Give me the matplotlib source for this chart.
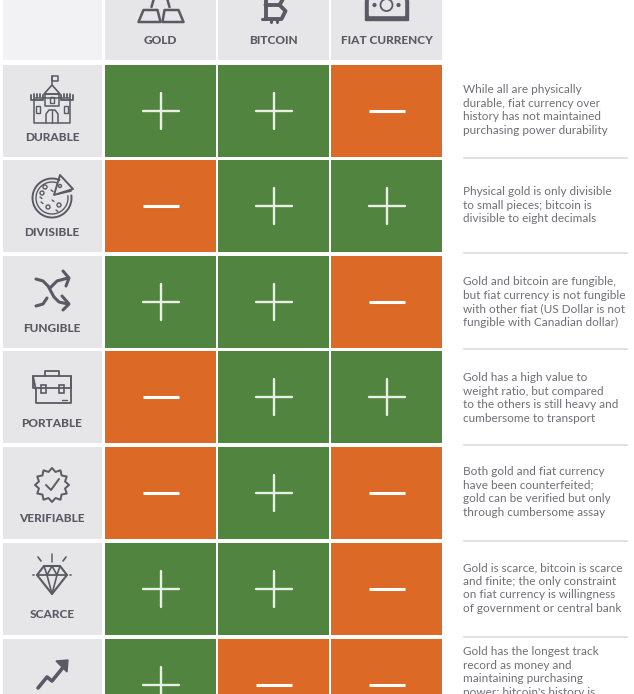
import numpy as np
import matplotlib
matplotlib.use("Agg")
import matplotlib.pyplot as plt
from matplotlib.patches import Rectangle, Circle, Polygon, Arc

columns = ["GOLD", "BITCOIN", "FIAT CURRENCY"]
properties = ["DURABLE", "DIVISIBLE", "FUNGIBLE", "PORTABLE", "VERIFIABLE", "SCARCE", ""]
gold = [1, 0, 1, 0, 0, 1, 1]
bitcoin = [1, 1, 1, 1, 1, 1, 0]
fiat = [0, 1, 0, 1, 0, 0, 0]
notes = [
    "While all are physically\ndurable, fiat currency over\nhistory has not maintained\npurchasing power durability",
    "Physical gold is only divisible\nto small pieces; bitcoin is\ndivisible to eight decimals",
    "Gold and bitcoin are fungible,\nbut fiat currency is not fungible\nwith other fiat (US Dollar is not\nfungible with Canadian dollar)",
    "Gold has a high value to\nweight ratio, but compared\nto the others is still heavy and\ncumbersome to transport",
    "Both gold and fiat currency\nhave been counterfeited;\ngold can be verified but only\nthrough cumbersome assay",
    "Gold is scarce, bitcoin is scarce\nand finite; the only constraint\non fiat currency is willingness\nof government or central bank",
    "Gold has the longest track\nrecord as money and\nmaintaining purchasing\npower; bitcoin's history is",
]

col_x = [105, 218, 331]
col_w = 111
row_y = [65, 160, 256, 351, 447, 543, 639]
row_h = 91.5
note_y = [84, 186, 276, 372, 466, 562, 646]
rule_y = [158, 253, 349, 445, 541, 637]

GREEN = "#50843f"
ORANGE = "#dc6a26"
GREY = "#e6e6e9"
INK = "#5a5a64"
NOTE = "#6f6f78"

plt.rcParams["font.family"] = ["Lato", "DejaVu Sans"]

fig = plt.figure(figsize=(6.34, 6.94), dpi=100)
ax = fig.add_axes([0, 0, 1, 1])
ax.set_xlim(0, 634)
ax.set_ylim(694, 0)
ax.axis("off")


def line(xs, ys, lw=1.5, color=INK):
    ax.plot(xs, ys, color=color, lw=lw, solid_capstyle="round", solid_joinstyle="round")


def outline(pts, lw=1.5, color=INK):
    ax.add_patch(Polygon(pts, closed=True, fill=False, ec=color, lw=lw, joinstyle="round"))


def castle(cx, cy):
    outline([(cx-18, cy-6), (cx+18, cy-6), (cx+18, cy+19), (cx-18, cy+19)], 1.1)
    for sx in (-1, 1):
        line([cx+sx*21, cx+sx*21, cx+sx*9, cx+sx*9], [cy-9, cy-4, cy-4, cy-9], 1.3)
        for k in (12, 15, 18):
            line([cx+sx*k, cx+sx*k], [cy-10, cy-7], 1.3)
        ax.add_patch(Rectangle((cx+sx*14-2, cy+2), 4, 7, fill=False, ec=INK, lw=1))
    outline([(cx-8, cy-10), (cx, cy-19), (cx+8, cy-10)], 1.2)
    outline([(cx-7, cy-10), (cx+7, cy-10), (cx+7, cy+2), (cx-7, cy+2)], 1.1)
    line([cx, cx], [cy-19, cy-28], 1.1)
    outline([(cx, cy-28), (cx+6, cy-28), (cx+6, cy-23), (cx, cy-23)], 1.1)
    ax.add_patch(Rectangle((cx-2, cy-7), 4, 6, fill=False, ec=INK, lw=1))
    line([cx-6, cx-6, cx-3, cx+3, cx+6, cx+6], [cy+19, cy+10, cy+6, cy+6, cy+10, cy+19], 1.1)
    line([cx, cx], [cy+6, cy+19], 1)


def pizza(cx, cy):
    ax.add_patch(Arc((cx, cy), 39, 39, theta1=-10, theta2=295, ec=INK, lw=1.4))
    ax.add_patch(Arc((cx, cy), 32, 32, theta1=-10, theta2=290, ec=INK, lw=1))
    outline([(cx+2, cy-3), (cx+8, cy-23), (cx+21, cy-9)], 1.4)
    line([cx+6, cx+19], [cy-4, cy-7], 1.2)
    for dx, dy in [(-10, -5), (-4, 9), (7, 7), (-7, -11)]:
        ax.add_patch(Circle((cx+dx, cy+dy), 2, fill=False, ec=INK, lw=1))
    for dx, dy in [(-11, 4), (0, 2), (-1, -8), (4, 12), (-12, -1)]:
        line([cx+dx, cx+dx+2], [cy+dy, cy+dy+1.5], 1)
    ax.add_patch(Circle((cx+8, cy-12), 1.5, fill=False, ec=INK, lw=1))


def shuffle(cx, cy):
    line([cx-16, cx-9, cx-4, cx+2, cx+7, cx+16], [cy-14, cy-12, cy-7, cy+4, cy+9, cy+11], 2.2)
    line([cx-16, cx-9, cx-5], [cy+13, cy+11, cy+5], 2.2)
    line([cx-2, cx+5, cx+16], [cy-5, cy-12, cy-15], 2.2)
    line([cx+11, cx+17, cx+14], [cy-22, cy-15, cy-7], 2.2)
    line([cx+10, cx+17, cx+11], [cy+3, cy+11, cy+17], 2.2)


def briefcase(cx, cy):
    outline([(cx-19, cy-10), (cx+19, cy-10), (cx+19, cy+17), (cx-16, cy+17), (cx-16, cy+4)], 1.3)
    line([cx-19, cx-19, cx+19, cx+19], [cy-10, cy+2, cy+2, cy-10], 1.3)
    line([cx-7, cx-7, cx+7, cx+7], [cy-10, cy-15, cy-15, cy-10], 1.3)
    for sx in (-1, 1):
        ax.add_patch(Rectangle((cx+sx*9-2.5, cy-1), 5, 8, fill=False, ec=INK, lw=1.2))
    line([cx+10, cx+15], [cy+14, cy+14], 1)


def badge(cx, cy):
    ang = np.linspace(0, 2*np.pi, 24, endpoint=False)
    rad = np.where(np.arange(24) % 2 == 0, 17, 13.5)
    outline(list(zip(cx+rad*np.cos(ang), cy+rad*np.sin(ang))), 1.4)
    line([cx-6, cx-1, cx+7], [cy, cy+5, cy-6], 1.4)


def diamond(cx, cy):
    outline([(cx-15, cy-3), (cx-8, cy-12), (cx+8, cy-12), (cx+15, cy-3), (cx, cy+16)], 1.5)
    line([cx-15, cx+15], [cy-3, cy-3], 1.3)
    line([cx-8, cx-5, cx, cx+5, cx+8], [cy-12, cy-3, cy-12, cy-3, cy-12], 1.2)
    line([cx-5, cx, cx+5], [cy-3, cy+16, cy-3], 1.2)
    line([cx, cx], [cy-24, cy-16], 1.2, "#6d6d76")
    line([cx-14, cx-11], [cy-21, cy-17], 1.2)
    line([cx+14, cx+11], [cy-21, cy-17], 1.2)
    line([cx-19, cx-18], [cy-3, cy-3], 1.2)
    line([cx+18, cx+19], [cy-3, cy-3], 1.2)


def growth(cx, cy):
    line([cx-14, cx-5, cx, cx+13], [cy+14, cy+3, cy+7, cy-9], 2.6)
    ax.add_patch(Polygon([(cx+4, cy-13), (cx+16, cy-14), (cx+15, cy-2)], closed=True, fc=INK, ec=INK, lw=1))


def bars(cx, cy):
    outline([(cx-22, cy+9), (cx-17, cy-3), (cx-3, cy-3), (cx, cy+9)], 1.8)
    outline([(cx+2, cy+9), (cx+4, cy-3), (cx+18, cy-3), (cx+23, cy+9)], 1.8)
    line([cx-9, cx-5, cx+5, cx+9], [cy-6, cy-20, cy-20, cy-6], 1.8)


def coin(cx, cy):
    line([cx-8, cx+6, cx+10, cx+6, cx-8], [cy-15, cy-15, cy-10, cy-3, cy-3], 2.8)
    line([cx+6, cx+12, cx+8, cx-8], [cy-3, cy+3, cy+11, cy+11], 2.8)
    line([cx-8, cx-8], [cy-15, cy+11], 2.8)
    line([cx-12, cx-8], [cy+11, cy+11], 2.2)
    line([cx-3, cx-3], [cy+11, cy+14], 2.2)
    line([cx+3, cx+3], [cy+11, cy+14], 2.2)


def banknote(cx, cy):
    ax.add_patch(Rectangle((cx-22, cy-10), 43, 20, fc=INK, ec=INK))
    ax.add_patch(Rectangle((cx-18, cy-10), 35, 15, fc=GREY, ec=GREY))
    ax.add_patch(Circle((cx, cy-5), 6, fc=GREY, ec=INK, lw=1.3))
    ax.add_patch(Circle((cx-12, cy-5), 1.4, fc=INK, ec=INK))
    ax.add_patch(Circle((cx+12, cy-5), 1.4, fc=INK, ec=INK))


row_icons = [castle, pizza, shuffle, briefcase, badge, diamond, growth]
icon_y = [104, 198, 293, 386, 485, 578, 674]
head_icons = [bars, coin, banknote]
head_icon_y = [13, 8, 10]

# header row
ax.add_patch(Rectangle((3, 0), 99, 60, fc="#f2f2f4", ec="none"))
for x, name, draw, iy in zip(col_x, columns, head_icons, head_icon_y):
    ax.add_patch(Rectangle((x, 0), col_w, 60, fc=GREY, ec="none"))
    draw(x + col_w/2, iy)
    ax.text(x + col_w/2, 40, name, ha="center", va="center", fontsize=8.6,
            fontweight="black", color=INK)

# body rows
marks = np.array([gold, bitcoin, fiat])
for r, y in enumerate(row_y):
    ax.add_patch(Rectangle((3, y), 99, row_h, fc=GREY, ec="none"))
    row_icons[r](52, icon_y[r])
    if properties[r]:
        ax.text(52, y + 72, properties[r], ha="center", va="center", fontsize=8.6,
                fontweight="black", color=INK)
    for c, x in enumerate(col_x):
        v = marks[c][r]
        ax.add_patch(Rectangle((x, y), col_w, row_h, fc=GREEN if v else ORANGE, ec="none"))
        mx, my = x + col_w/2, y + 45.5
        if v:
            line([mx-18, mx+18], [my, my], 1.7, "#e9efe4")
            line([mx, mx], [my-18, my+18], 1.7, "#e9efe4")
        else:
            ax.plot([mx-18, mx+18], [my, my], color="white", lw=2.2, solid_capstyle="butt")
    ax.text(463, note_y[r], notes[r], ha="left", va="top", fontsize=8.5,
            color=NOTE, linespacing=1.29)

for y in rule_y:
    ax.plot([464, 627], [y, y], color="#dcdcde", lw=1.2)

fig.savefig("out.png", dpi=100)
